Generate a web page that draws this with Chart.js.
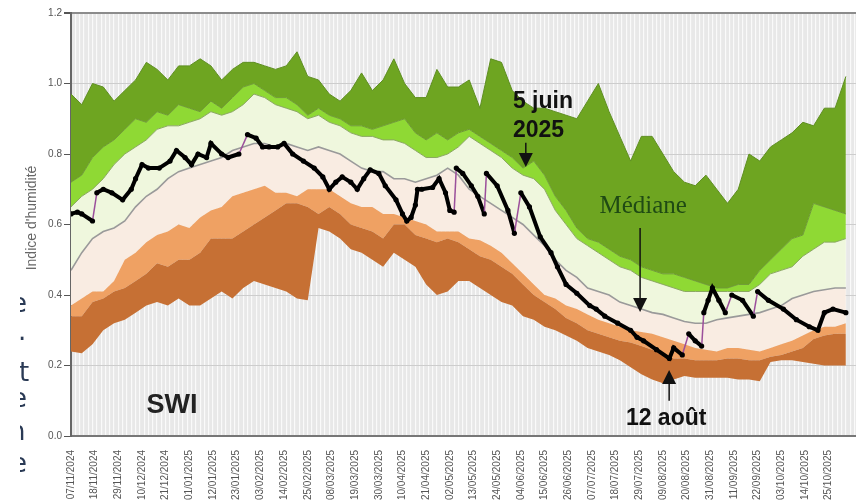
<!DOCTYPE html>
<html>
<head>
<meta charset="utf-8">
<script src="https://cdn.jsdelivr.net/npm/chart.js@4.4.1/dist/chart.umd.min.js"></script>
<style>
  html, body { margin: 0; padding: 0; background: #fff; overflow: hidden; width: 856px; height: 504px; }
  canvas { display: block; }
</style>
</head>
<body>
<canvas id="swi-chart" width="880" height="504"></canvas>
<script>
// Tick labels of the x axis (one every 11 days, day 0 = 07/11/2024)
var dateLabels = ['07/11/2024','18/11/2024','29/11/2024','10/12/2024','21/12/2024','01/01/2025',
  '12/01/2025','23/01/2025','03/02/2025','14/02/2025','25/02/2025','08/03/2025','19/03/2025',
  '30/03/2025','10/04/2025','21/04/2025','02/05/2025','13/05/2025','24/05/2025','04/06/2025',
  '15/06/2025','26/06/2025','07/07/2025','18/07/2025','29/07/2025','09/08/2025','20/08/2025',
  '31/08/2025','11/09/2025','22/09/2025','03/10/2025','14/10/2025','25/10/2025'];

// Climatology envelopes, one value every 5 days
var bandDays = [0,5,10,15,20,25,30,35,40,45,50,55,60,65,70,75,80,85,90,95,100,105,110,115,120,
  125,130,135,140,145,150,155,160,165,170,175,180,185,190,195,200,205,210,215,220,225,230,235,
  240,245,250,255,260,265,270,275,280,285,290,295,300,305,310,315,320,325,330,335,340,345,350,355,360];

var swiMin = [0.24,0.235,0.26,0.30,0.32,0.33,0.35,0.37,0.38,0.37,
  0.39,0.37,0.37,0.39,0.41,0.39,0.42,0.44,0.43,0.42,
  0.41,0.39,0.385,0.59,0.58,0.56,0.53,0.52,0.50,0.48,
  0.52,0.50,0.48,0.43,0.40,0.41,0.44,0.44,0.42,0.40,
  0.38,0.37,0.34,0.33,0.31,0.30,0.285,0.27,0.25,0.24,
  0.23,0.215,0.195,0.175,0.16,0.15,0.16,0.17,0.165,0.165,
  0.165,0.165,0.16,0.16,0.155,0.21,0.215,0.215,0.21,0.205,
  0.20,0.20,0.20];

var swiP10 = [0.34,0.34,0.38,0.39,0.41,0.42,0.44,0.46,0.49,0.48,
  0.50,0.50,0.52,0.56,0.56,0.56,0.58,0.60,0.62,0.64,
  0.66,0.66,0.65,0.63,0.65,0.63,0.60,0.59,0.58,0.56,
  0.60,0.60,0.57,0.56,0.55,0.56,0.55,0.53,0.51,0.50,
  0.48,0.46,0.43,0.40,0.38,0.36,0.335,0.32,0.30,0.29,
  0.28,0.27,0.265,0.255,0.245,0.235,0.22,0.22,0.215,0.215,
  0.215,0.22,0.22,0.215,0.215,0.225,0.23,0.24,0.25,0.275,
  0.285,0.29,0.29];

var swiP25 = [0.37,0.39,0.41,0.41,0.44,0.50,0.52,0.55,0.57,0.58,
  0.60,0.59,0.62,0.64,0.65,0.68,0.69,0.70,0.71,0.69,
  0.69,0.68,0.70,0.70,0.70,0.68,0.66,0.65,0.65,0.63,
  0.63,0.62,0.61,0.60,0.58,0.58,0.58,0.56,0.555,0.54,
  0.52,0.49,0.46,0.43,0.40,0.39,0.37,0.36,0.345,0.33,
  0.32,0.31,0.30,0.295,0.29,0.28,0.27,0.26,0.25,0.245,
  0.24,0.25,0.25,0.245,0.24,0.25,0.26,0.27,0.285,0.30,
  0.31,0.31,0.32];

var swiMedian = [0.47,0.52,0.56,0.58,0.59,0.61,0.65,0.68,0.70,0.73,
  0.75,0.76,0.77,0.78,0.79,0.81,0.82,0.83,0.83,0.82,
  0.83,0.82,0.81,0.82,0.81,0.80,0.78,0.76,0.75,0.75,
  0.73,0.73,0.72,0.73,0.74,0.76,0.74,0.70,0.68,0.66,
  0.64,0.62,0.60,0.57,0.54,0.50,0.47,0.45,0.42,0.41,
  0.40,0.38,0.37,0.36,0.35,0.345,0.335,0.325,0.32,0.32,
  0.33,0.335,0.34,0.345,0.35,0.36,0.37,0.39,0.40,0.41,
  0.415,0.42,0.42];

var swiP75 = [0.65,0.68,0.70,0.73,0.77,0.80,0.82,0.84,0.87,0.88,
  0.88,0.89,0.90,0.92,0.91,0.92,0.94,0.97,0.96,0.94,
  0.93,0.92,0.90,0.91,0.89,0.88,0.86,0.85,0.85,0.84,
  0.84,0.83,0.81,0.79,0.79,0.80,0.82,0.85,0.83,0.81,
  0.79,0.76,0.74,0.73,0.70,0.64,0.60,0.56,0.54,0.52,
  0.50,0.48,0.47,0.45,0.44,0.43,0.42,0.41,0.41,0.41,
  0.41,0.41,0.41,0.41,0.43,0.46,0.47,0.48,0.51,0.53,
  0.55,0.55,0.56];

var swiP90 = [0.72,0.74,0.79,0.82,0.84,0.87,0.90,0.89,0.92,0.91,
  0.94,0.93,0.92,0.95,0.93,0.96,0.99,1.00,0.98,0.96,
  0.96,0.94,0.91,0.93,0.91,0.90,0.88,0.88,0.87,0.88,
  0.89,0.90,0.86,0.84,0.86,0.84,0.86,0.87,0.85,0.83,
  0.81,0.79,0.76,0.78,0.74,0.68,0.64,0.59,0.56,0.55,
  0.53,0.51,0.50,0.48,0.47,0.46,0.46,0.45,0.44,0.43,
  0.42,0.42,0.43,0.43,0.47,0.50,0.53,0.56,0.57,0.66,
  0.65,0.64,0.63];

var swiMax = [0.97,0.94,1.00,0.99,0.95,0.98,1.01,1.06,1.04,1.01,
  1.05,1.05,1.07,1.05,1.01,1.04,1.06,1.06,1.05,1.04,
  1.05,1.09,1.02,1.01,0.97,0.95,0.98,1.03,0.98,1.01,
  1.07,1.00,0.96,0.96,1.04,0.99,0.99,1.01,0.93,1.07,
  1.06,0.98,0.95,0.93,0.93,0.92,0.91,0.90,0.95,1.00,
  0.92,0.85,0.78,0.85,0.85,0.80,0.75,0.72,0.71,0.74,
  0.70,0.66,0.70,0.80,0.78,0.82,0.84,0.86,0.89,0.88,
  0.93,0.93,1.02];

// SWI of the current year (days since 07/11/2024)
var swiDays = [0,3,5,10,12,15,19,24,28,30,33,36,41,46,49,53,56,59,63,65,70,73,78,82,86,89,92,96,99,
  103,108,113,117,120,123,126,130,133,136,139,143,146,151,154,156,158,160,161,163,168,171,174,176,
  178,179,182,186,189,192,193,198,203,206,209,213,218,223,226,230,235,241,244,248,254,260,263,266,
  272,278,280,284,287,290,293,294,296,298,301,304,307,312,317,319,324,331,337,343,347,350,354,360];
var swiValues = [0.63,0.635,0.63,0.61,0.69,0.70,0.69,0.67,0.70,0.73,0.77,0.76,0.76,0.78,0.81,0.79,
  0.77,0.80,0.79,0.83,0.80,0.79,0.80,0.855,0.845,0.82,0.82,0.82,0.83,
  0.80,0.78,0.76,0.735,0.70,0.72,0.735,0.72,0.70,0.73,0.755,0.745,0.71,0.67,0.63,0.61,0.62,0.655,
  0.70,0.70,0.705,0.73,0.69,0.64,
  0.635,0.76,0.745,0.71,0.68,0.63,0.745,0.71,0.64,0.575,0.69,0.65,0.565,0.52,0.48,0.43,0.405,
  0.37,0.36,0.34,0.32,0.30,0.28,0.27,
  0.245,0.22,0.25,0.23,0.29,0.27,0.255,0.35,0.385,0.42,0.385,0.35,0.40,0.385,0.34,0.41,0.385,
  0.36,0.33,0.31,0.30,0.35,0.36,0.35];

function pts(days, vals) {
  return days.map(function (d, i) { return { x: d, y: vals[i] }; });
}

function band(label, vals, fillColor, lineColor, lineWidth) {
  return {
    label: label,
    data: pts(bandDays, vals),
    backgroundColor: fillColor,
    borderColor: lineColor,
    borderWidth: lineWidth,
    pointRadius: 0,
    tension: 0,
    fill: '-1',
    order: 1
  };
}

// Text and arrows laid on top of the plot (anchored in data units)
var notes = [
  { day: 205.3, val: 0.930, text: '5 juin', font: 'bold 23px "Liberation Sans", Arial, sans-serif', color: '#111', align: 'left' },
  { day: 205.3, val: 0.848, text: '2025', font: 'bold 23px "Liberation Sans", Arial, sans-serif', color: '#111', align: 'left' },
  { day: 245.5, val: 0.633, text: 'Médiane', font: '25px "Liberation Serif", "DejaVu Serif", serif', color: '#1f4a14', align: 'left' },
  { day: 276.5, val: 0.031, text: '12 août', font: 'bold 23px "Liberation Sans", Arial, sans-serif', color: '#111', align: 'center' },
  { day: 35.1, val: 0.065, text: 'SWI', font: 'bold 27px "Liberation Sans", Arial, sans-serif', color: '#222', align: 'left' }
];
var arrows = [
  { day: 211.3, from: 0.832, to: 0.763 },
  { day: 264.4, from: 0.590, to: 0.352 },
  { day: 277.9, from: 0.100, to: 0.187 }
];

var plotBackground = {
  id: 'plotBackground',
  beforeDraw: function (chart) {
    var a = chart.chartArea, ctx = chart.ctx;
    ctx.save();
    ctx.fillStyle = '#e8e8e8';
    ctx.fillRect(a.left, a.top, a.right - a.left, a.bottom - a.top);
    ctx.restore();
  }
};

var annotations = {
  id: 'annotations',
  afterDraw: function (chart) {
    var ctx = chart.ctx, x = chart.scales.x, y = chart.scales.y;
    ctx.save();
    ctx.textBaseline = 'alphabetic';
    notes.forEach(function (n) {
      ctx.font = n.font;
      ctx.fillStyle = n.color;
      ctx.textAlign = n.align;
      ctx.fillText(n.text, x.getPixelForValue(n.day), y.getPixelForValue(n.val));
    });
    arrows.forEach(function (a) {
      var px = x.getPixelForValue(a.day);
      var y0 = y.getPixelForValue(a.from), y1 = y.getPixelForValue(a.to);
      var dir = y1 > y0 ? 1 : -1;
      ctx.strokeStyle = '#111';
      ctx.lineWidth = 1.5;
      ctx.beginPath();
      ctx.moveTo(px, y0);
      ctx.lineTo(px, y1 - dir * 12);
      ctx.stroke();
      ctx.fillStyle = '#111';
      ctx.beginPath();
      ctx.moveTo(px, y1);
      ctx.lineTo(px - 7, y1 - dir * 14);
      ctx.lineTo(px + 7, y1 - dir * 14);
      ctx.closePath();
      ctx.fill();
    });

    // y axis title
    ctx.save();
    ctx.translate(32, 218);
    ctx.rotate(-Math.PI / 2);
    ctx.font = '14px "Liberation Sans", Arial, sans-serif';
    ctx.fillStyle = '#666';
    ctx.textAlign = 'center';
    ctx.textBaseline = 'middle';
    ctx.fillText("Indice d'humidité", 0, 0);
    ctx.restore();

    // cut-off letters of the neighbouring page text on the left edge
    ctx.save();
    ctx.beginPath();
    ctx.rect(20, 290, 14, 214);
    ctx.clip();
    ctx.font = '26px "DejaVu Sans", sans-serif';
    ctx.fillStyle = '#2a3a55';
    ctx.textAlign = 'left';
    ctx.textBaseline = 'alphabetic';
    [['e', 11, 312], ['.', 18, 340], ['t', 19, 381], ['e', 11, 407], ['n', 9, 440], ['e', 11, 472]].forEach(function (c) {
      ctx.fillText(c[0], c[1], c[2]);
    });
    ctx.restore();
    ctx.restore();
  }
};

var ctx = document.getElementById('swi-chart').getContext('2d');
var swiChart = new Chart(ctx, {
  type: 'line',
  data: {
    datasets: [
      {
        label: 'SWI 2024-2025',
        data: pts(swiDays, swiValues),
        borderColor: '#000',
        borderWidth: 4,
        pointRadius: 2.6,
        pointBackgroundColor: '#000',
        pointBorderWidth: 0,
        tension: 0,
        fill: false,
        order: 0,
        segment: {
          borderColor: function (c) { return c.p1.parsed.y - c.p0.parsed.y > 0.05 ? '#9b4f9b' : undefined; },
          borderWidth: function (c) { return c.p1.parsed.y - c.p0.parsed.y > 0.05 ? 1.5 : undefined; }
        }
      },
      { label: 'min', data: pts(bandDays, swiMin), borderWidth: 0, pointRadius: 0, fill: false, order: 1 },
      band('décile 1', swiP10, '#c67034', 'rgba(0,0,0,0)', 0),
      band('quartile 1', swiP25, '#efa163', 'rgba(0,0,0,0)', 0),
      band('médiane', swiMedian, '#f9ece2', '#9a9a9a', 1.6),
      band('quartile 3', swiP75, '#eff7dd', '#8aa860', 1),
      band('décile 9', swiP90, '#8fd934', '#6f9a36', 1),
      band('max', swiMax, '#6ea521', '#5f8f22', 1)
    ]
  },
  options: {
    responsive: false,
    animation: false,
    events: [],
    layout: { padding: { top: 13, left: 0, right: 0, bottom: 0 } },
    plugins: {
      legend: { display: false },
      tooltip: { enabled: false },
      filler: { drawTime: 'beforeDatasetsDraw' }
    },
    scales: {
      x: {
        type: 'linear',
        min: 0,
        max: 374,
        afterFit: function (s) { s.height = 68; s.paddingLeft = 0; s.paddingRight = 0; },
        afterBuildTicks: function (s) {
          s.ticks = dateLabels.map(function (_, i) { return { value: i * 11 }; });
        },
        ticks: {
          autoSkip: false,
          minRotation: 90,
          maxRotation: 90,
          padding: 6,
          color: '#555',
          font: { size: 10, family: '"Liberation Sans", Arial, sans-serif' },
          callback: function (v) { return dateLabels[Math.round(v / 11)] || ''; }
        },
        grid: { display: false },
        border: { color: '#777', width: 2 }
      },
      stripes: {
        type: 'linear',
        position: 'top',
        min: 0,
        max: 374,
        afterFit: function (s) { s.height = 0; },
        ticks: { display: false, stepSize: 2 },
        grid: { color: '#fafafa', lineWidth: 1.2, drawTicks: false },
        border: { display: false }
      },
      y: {
        min: 0,
        max: 1.2,
        afterFit: function (s) { s.width = 71; },
        ticks: {
          stepSize: 0.2,
          padding: 2,
          color: '#555',
          font: { size: 10, family: '"Liberation Sans", Arial, sans-serif' },
          callback: function (v) { return v.toFixed(1); }
        },
        grid: {
          color: function (c) { return c.tick && c.tick.value > 1.19 ? '#8c8c8c' : '#cdcdcd'; },
          lineWidth: function (c) { return c.tick && c.tick.value > 1.19 ? 2 : 1; },
          tickColor: '#555',
          tickLength: 7
        },
        border: { color: '#666', width: 2 }
      }
    }
  },
  plugins: [plotBackground, annotations]
});
</script>
</body>
</html>
